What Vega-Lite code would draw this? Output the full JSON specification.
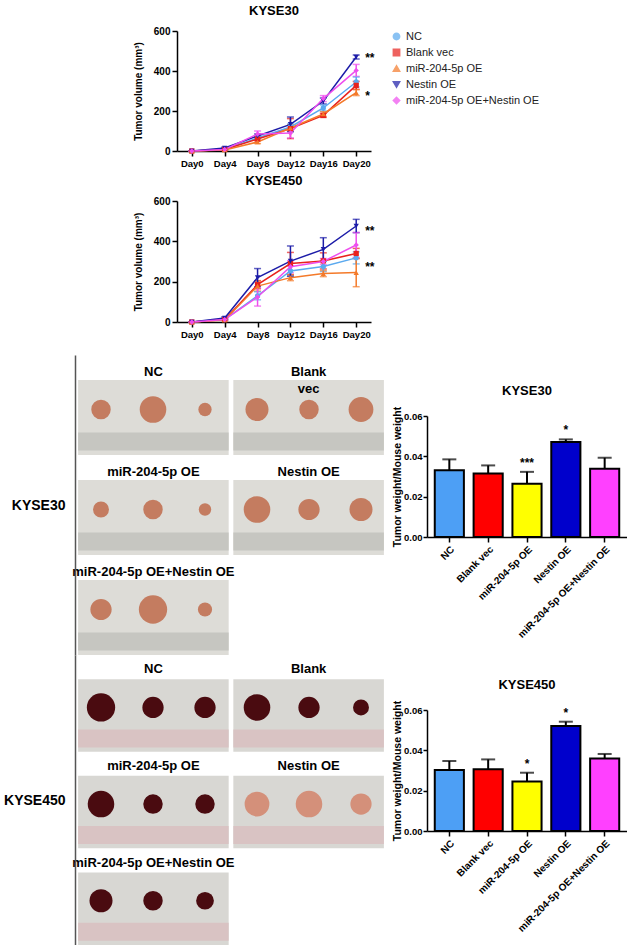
{
  "$schema": "https://vega.github.io/schema/vega-lite/v6.json",
  "background": "white",
  "padding": {"left": 3, "top": 5, "right": 0, "bottom": 0},
  "config": {
    "font": "Liberation Sans",
    "view": {"stroke": null},
    "axis": {"domainColor": "black", "domainWidth": 1.5, "tickColor": "black", "tickWidth": 1.5, "labelColor": "black", "labelFontWeight": "bold", "titleColor": "black", "titleFontWeight": "bold", "grid": false},
    "title": {"fontSize": 13, "fontWeight": "bold", "color": "black", "offset": 8},
    "legend": {"title": null, "labelFontSize": 11, "labelColor": "#222", "symbolSize": 40, "rowPadding": 3, "offset": 16}
  },
  "datasets": {
    "vol30": [
      {"group": "NC", "day": "Day0", "mean": 0, "err": 0},
      {"group": "NC", "day": "Day4", "mean": 8, "err": 3},
      {"group": "NC", "day": "Day8", "mean": 65, "err": 10},
      {"group": "NC", "day": "Day12", "mean": 120, "err": 15},
      {"group": "NC", "day": "Day16", "mean": 215, "err": 15},
      {"group": "NC", "day": "Day20", "mean": 345, "err": 25},
      {"group": "Blank vec", "day": "Day0", "mean": 0, "err": 0},
      {"group": "Blank vec", "day": "Day4", "mean": 8, "err": 3},
      {"group": "Blank vec", "day": "Day8", "mean": 60, "err": 8},
      {"group": "Blank vec", "day": "Day12", "mean": 112, "err": 50},
      {"group": "Blank vec", "day": "Day16", "mean": 178, "err": 10},
      {"group": "Blank vec", "day": "Day20", "mean": 328, "err": 20},
      {"group": "miR-204-5p OE", "day": "Day0", "mean": 0, "err": 0},
      {"group": "miR-204-5p OE", "day": "Day4", "mean": 5, "err": 2},
      {"group": "miR-204-5p OE", "day": "Day8", "mean": 45, "err": 8},
      {"group": "miR-204-5p OE", "day": "Day12", "mean": 115, "err": 15},
      {"group": "miR-204-5p OE", "day": "Day16", "mean": 185, "err": 12},
      {"group": "miR-204-5p OE", "day": "Day20", "mean": 292, "err": 15},
      {"group": "Nestin OE", "day": "Day0", "mean": 0, "err": 0},
      {"group": "Nestin OE", "day": "Day4", "mean": 15, "err": 4},
      {"group": "Nestin OE", "day": "Day8", "mean": 75, "err": 10},
      {"group": "Nestin OE", "day": "Day12", "mean": 133, "err": 37},
      {"group": "Nestin OE", "day": "Day16", "mean": 250, "err": 15},
      {"group": "Nestin OE", "day": "Day20", "mean": 470, "err": 10},
      {"group": "miR-204-5p OE+Nestin OE", "day": "Day0", "mean": 0, "err": 0},
      {"group": "miR-204-5p OE+Nestin OE", "day": "Day4", "mean": 8, "err": 3},
      {"group": "miR-204-5p OE+Nestin OE", "day": "Day8", "mean": 85, "err": 15},
      {"group": "miR-204-5p OE+Nestin OE", "day": "Day12", "mean": 90, "err": 25},
      {"group": "miR-204-5p OE+Nestin OE", "day": "Day16", "mean": 262, "err": 15},
      {"group": "miR-204-5p OE+Nestin OE", "day": "Day20", "mean": 403, "err": 30}
    ],
    "vol450": [
      {"group": "NC", "day": "Day0", "mean": 0, "err": 0},
      {"group": "NC", "day": "Day4", "mean": 12, "err": 3},
      {"group": "NC", "day": "Day8", "mean": 130, "err": 20},
      {"group": "NC", "day": "Day12", "mean": 253, "err": 25},
      {"group": "NC", "day": "Day16", "mean": 275, "err": 25},
      {"group": "NC", "day": "Day20", "mean": 318, "err": 30},
      {"group": "Blank vec", "day": "Day0", "mean": 0, "err": 0},
      {"group": "Blank vec", "day": "Day4", "mean": 12, "err": 3},
      {"group": "Blank vec", "day": "Day8", "mean": 185, "err": 20},
      {"group": "Blank vec", "day": "Day12", "mean": 290, "err": 55},
      {"group": "Blank vec", "day": "Day16", "mean": 303, "err": 40},
      {"group": "Blank vec", "day": "Day20", "mean": 340, "err": 25},
      {"group": "miR-204-5p OE", "day": "Day0", "mean": 0, "err": 0},
      {"group": "miR-204-5p OE", "day": "Day4", "mean": 10, "err": 3},
      {"group": "miR-204-5p OE", "day": "Day8", "mean": 178, "err": 25},
      {"group": "miR-204-5p OE", "day": "Day12", "mean": 220, "err": 15},
      {"group": "miR-204-5p OE", "day": "Day16", "mean": 240, "err": 15},
      {"group": "miR-204-5p OE", "day": "Day20", "mean": 245, "err": 70},
      {"group": "Nestin OE", "day": "Day0", "mean": 0, "err": 0},
      {"group": "Nestin OE", "day": "Day4", "mean": 20, "err": 5},
      {"group": "Nestin OE", "day": "Day8", "mean": 220, "err": 45},
      {"group": "Nestin OE", "day": "Day12", "mean": 302, "err": 75},
      {"group": "Nestin OE", "day": "Day16", "mean": 360, "err": 58},
      {"group": "Nestin OE", "day": "Day20", "mean": 476, "err": 33},
      {"group": "miR-204-5p OE+Nestin OE", "day": "Day0", "mean": 0, "err": 0},
      {"group": "miR-204-5p OE+Nestin OE", "day": "Day4", "mean": 12, "err": 3},
      {"group": "miR-204-5p OE+Nestin OE", "day": "Day8", "mean": 124, "err": 45},
      {"group": "miR-204-5p OE+Nestin OE", "day": "Day12", "mean": 274, "err": 30},
      {"group": "miR-204-5p OE+Nestin OE", "day": "Day16", "mean": 300, "err": 15},
      {"group": "miR-204-5p OE+Nestin OE", "day": "Day20", "mean": 382, "err": 62}
    ],
    "stars30": [
      {"day": "Day20", "mean": 478, "sig": "**"},
      {"day": "Day20", "mean": 292, "sig": "*"}
    ],
    "stars450": [
      {"day": "Day20", "mean": 468, "sig": "**"},
      {"day": "Day20", "mean": 286, "sig": "**"}
    ],
    "weight30": [
      {"group": "NC", "mean": 0.0331, "upper": 0.0385, "sig": ""},
      {"group": "Blank vec", "mean": 0.0315, "upper": 0.0355, "sig": ""},
      {"group": "miR-204-5p OE", "mean": 0.0264, "upper": 0.0323, "sig": "***"},
      {"group": "Nestin OE", "mean": 0.0471, "upper": 0.0484, "sig": "*"},
      {"group": "miR-204-5p OE+Nestin OE", "mean": 0.0338, "upper": 0.0393, "sig": ""}
    ],
    "weight450": [
      {"group": "NC", "mean": 0.0302, "upper": 0.0347, "sig": ""},
      {"group": "Blank vec", "mean": 0.0306, "upper": 0.0355, "sig": ""},
      {"group": "miR-204-5p OE", "mean": 0.0245, "upper": 0.0289, "sig": "*"},
      {"group": "Nestin OE", "mean": 0.0521, "upper": 0.0542, "sig": "*"},
      {"group": "miR-204-5p OE+Nestin OE", "mean": 0.036, "upper": 0.0382, "sig": ""}
    ],
    "photos30": [
      {"col": "L", "row": "1", "label": "NC"},
      {"col": "R", "row": "1", "label": ["Blank", "vec"]},
      {"col": "L", "row": "2", "label": "miR-204-5p OE"},
      {"col": "R", "row": "2", "label": "Nestin OE"},
      {"col": "L", "row": "3", "label": "miR-204-5p OE+Nestin OE"}
    ],
    "photos450": [
      {"col": "L", "row": "1", "label": "NC"},
      {"col": "R", "row": "1", "label": "Blank"},
      {"col": "L", "row": "2", "label": "miR-204-5p OE"},
      {"col": "R", "row": "2", "label": "Nestin OE"},
      {"col": "L", "row": "3", "label": "miR-204-5p OE+Nestin OE"}
    ],
    "tumors30": [
      {"slot": "L1", "row": "1", "d": 22, "tissue": "pale"},
      {"slot": "L2", "row": "1", "d": 30, "tissue": "pale"},
      {"slot": "L3", "row": "1", "d": 15, "tissue": "pale"},
      {"slot": "R1", "row": "1", "d": 26, "tissue": "pale"},
      {"slot": "R2", "row": "1", "d": 22, "tissue": "pale"},
      {"slot": "R3", "row": "1", "d": 28, "tissue": "pale"},
      {"slot": "L1", "row": "2", "d": 18, "tissue": "pale"},
      {"slot": "L2", "row": "2", "d": 22, "tissue": "pale"},
      {"slot": "L3", "row": "2", "d": 14, "tissue": "pale"},
      {"slot": "R1", "row": "2", "d": 30, "tissue": "pale"},
      {"slot": "R2", "row": "2", "d": 24, "tissue": "pale"},
      {"slot": "R3", "row": "2", "d": 26, "tissue": "pale"},
      {"slot": "L1", "row": "3", "d": 24, "tissue": "pale"},
      {"slot": "L2", "row": "3", "d": 32, "tissue": "pale"},
      {"slot": "L3", "row": "3", "d": 16, "tissue": "pale"}
    ],
    "tumors450": [
      {"slot": "L1", "row": "1", "d": 32, "tissue": "dark"},
      {"slot": "L2", "row": "1", "d": 24, "tissue": "dark"},
      {"slot": "L3", "row": "1", "d": 24, "tissue": "dark"},
      {"slot": "R1", "row": "1", "d": 30, "tissue": "dark"},
      {"slot": "R2", "row": "1", "d": 24, "tissue": "dark"},
      {"slot": "R3", "row": "1", "d": 18, "tissue": "dark"},
      {"slot": "L1", "row": "2", "d": 30, "tissue": "dark"},
      {"slot": "L2", "row": "2", "d": 22, "tissue": "dark"},
      {"slot": "L3", "row": "2", "d": 22, "tissue": "dark"},
      {"slot": "R1", "row": "2", "d": 28, "tissue": "pink"},
      {"slot": "R2", "row": "2", "d": 30, "tissue": "pink"},
      {"slot": "R3", "row": "2", "d": 24, "tissue": "pink"},
      {"slot": "L1", "row": "3", "d": 26, "tissue": "dark"},
      {"slot": "L2", "row": "3", "d": 22, "tissue": "dark"},
      {"slot": "L3", "row": "3", "d": 20, "tissue": "dark"}
    ]
  },
  "resolve": {"scale": {"color": "independent", "shape": "independent", "size": "independent"}, "legend": {"color": "independent", "shape": "independent"}},
  "spacing": 16,
  "vconcat": [
    {
      "spacing": 20,
      "resolve": {"scale": {"color": "independent", "shape": "independent"}},
      "hconcat": [
        {"width": 38, "height": 1, "data": {"values": []}, "mark": "text", "encoding": {}},
        {
          "spacing": 7,
          "vconcat": [
            {
              "title": "KYSE30",
              "width": 194,
              "height": 120,
              "data": {"name": "vol30"},
              "encoding": {
                "x": {"field": "day", "type": "ordinal", "scale": {"type": "point", "domain": ["Day0", "Day4", "Day8", "Day12", "Day16", "Day20"], "padding": 0.45}, "axis": {"title": null, "labelAngle": 0, "labelFontSize": 9.5}},
                "y": {"field": "mean", "type": "quantitative", "scale": {"domain": [0, 600], "nice": false}, "axis": {"values": [0, 200, 400, 600], "title": "Tumor volume (mm³)", "titleFontSize": 10, "titlePadding": 10, "labelFontSize": 10}}
              },
              "layer": [
                {"mark": {"type": "errorbar", "ticks": {"size": 7}, "thickness": 1.5}, "encoding": {"yError": {"field": "err"}, "color": {"field": "group", "type": "nominal", "scale": {"domain": ["NC", "Blank vec", "miR-204-5p OE", "Nestin OE", "miR-204-5p OE+Nestin OE"], "range": ["#5aa9ef", "#e8211c", "#f47a2a", "#1c1ca8", "#ee4eee"]}}}},
                {"mark": {"type": "line", "strokeWidth": 1.5}, "encoding": {"color": {"field": "group", "type": "nominal"}}},
                {"mark": {"type": "point", "filled": true, "size": 28, "opacity": 1}, "encoding": {"color": {"field": "group", "type": "nominal"}, "shape": {"field": "group", "type": "nominal", "scale": {"domain": ["NC", "Blank vec", "miR-204-5p OE", "Nestin OE", "miR-204-5p OE+Nestin OE"], "range": ["circle", "square", "triangle-up", "triangle-down", "diamond"]}}}},
                {"data": {"name": "stars30"}, "mark": {"type": "text", "dx": 9, "align": "left", "fontWeight": "bold", "fontSize": 12, "dy": 3}, "encoding": {"text": {"field": "sig"}}}
              ]
            },
            {
              "title": "KYSE450",
              "width": 194,
              "height": 121,
              "data": {"name": "vol450"},
              "encoding": {
                "x": {"field": "day", "type": "ordinal", "scale": {"type": "point", "domain": ["Day0", "Day4", "Day8", "Day12", "Day16", "Day20"], "padding": 0.45}, "axis": {"title": null, "labelAngle": 0, "labelFontSize": 9.5}},
                "y": {"field": "mean", "type": "quantitative", "scale": {"domain": [0, 600], "nice": false}, "axis": {"values": [0, 200, 400, 600], "title": "Tumor volume (mm³)", "titleFontSize": 10, "titlePadding": 10, "labelFontSize": 10}}
              },
              "layer": [
                {"mark": {"type": "errorbar", "ticks": {"size": 7}, "thickness": 1.5}, "encoding": {"yError": {"field": "err"}, "color": {"field": "group", "type": "nominal", "scale": {"domain": ["NC", "Blank vec", "miR-204-5p OE", "Nestin OE", "miR-204-5p OE+Nestin OE"], "range": ["#5aa9ef", "#e8211c", "#f47a2a", "#1c1ca8", "#ee4eee"]}}}},
                {"mark": {"type": "line", "strokeWidth": 1.5}, "encoding": {"color": {"field": "group", "type": "nominal"}}},
                {"mark": {"type": "point", "filled": true, "size": 28, "opacity": 1}, "encoding": {"color": {"field": "group", "type": "nominal"}, "shape": {"field": "group", "type": "nominal", "scale": {"domain": ["NC", "Blank vec", "miR-204-5p OE", "Nestin OE", "miR-204-5p OE+Nestin OE"], "range": ["circle", "square", "triangle-up", "triangle-down", "diamond"]}}}},
                {"data": {"name": "stars450"}, "mark": {"type": "text", "dx": 9, "align": "left", "fontWeight": "bold", "fontSize": 12, "dy": 3}, "encoding": {"text": {"field": "sig"}}}
              ]
            }
          ]
        }
      ]
    },
    {
      "spacing": 0,
      "resolve": {"scale": {"color": "independent", "size": "independent"}},
      "vconcat": [
        {
          "spacing": 5,
          "resolve": {"scale": {"color": "independent", "size": "independent"}},
          "hconcat": [
            {
              "width": 312,
              "height": 300,
              "resolve": {"scale": {"x": "independent"}},
              "encoding": {
                "y": {"field": "row", "type": "nominal", "scale": {"type": "band", "paddingInner": 0.25, "paddingOuter": 0.125, "align": 1}, "axis": {"title": "KYSE30", "titleAngle": 0, "titleAlign": "right", "titleBaseline": "middle", "titleFontSize": 14, "titlePadding": 10, "labels": false, "ticks": false, "domainColor": "#555"}}
              },
              "layer": [
                {"data": {"name": "photos30"}, "mark": {"type": "rect", "fill": "#dddcd7"}, "encoding": {"x": {"field": "col", "type": "nominal", "scale": {"type": "band", "paddingInner": 0.03, "paddingOuter": 0.02}, "axis": null}}},
                {"data": {"name": "photos30"}, "mark": {"type": "rect", "fill": "#c6c6c1", "height": 18, "yOffset": 24}, "encoding": {"x": {"field": "col", "type": "nominal", "scale": {"type": "band", "paddingInner": 0.03, "paddingOuter": 0.02}, "axis": null}}},
                {"data": {"name": "tumors30"}, "mark": {"type": "point", "filled": true, "opacity": 1, "yOffset": -8}, "encoding": {"x": {"field": "slot", "type": "nominal", "scale": {"type": "band", "paddingInner": 0, "paddingOuter": 0}, "axis": null}, "size": {"field": "d", "type": "quantitative", "scale": {"type": "pow", "exponent": 2, "domain": [0, 35], "range": [0, 960]}, "legend": null}, "color": {"field": "tissue", "type": "nominal", "scale": {"domain": ["pale", "dark", "pink"], "range": ["#c47c60", "#4a0b10", "#d4907a"]}, "legend": null}}},
                {"data": {"name": "photos30"}, "mark": {"type": "text", "baseline": "top", "dy": -52, "fontWeight": "bold", "fontSize": 13, "lineHeight": 17}, "encoding": {"x": {"field": "col", "type": "nominal", "scale": {"type": "band", "paddingInner": 0.03, "paddingOuter": 0.02}, "axis": null}, "text": {"field": "label"}}}
              ]
            },
            {
              "spacing": 29,
              "vconcat": [
                {"width": 200, "height": 1, "data": {"values": []}, "mark": "text", "encoding": {}},
                {
                  "title": "KYSE30",
                  "width": 200,
                  "height": 121,
                  "data": {"name": "weight30"},
                  "encoding": {
                    "x": {"field": "group", "type": "nominal", "sort": null, "scale": {"paddingInner": 0.25, "paddingOuter": 0.2}, "axis": {"title": null, "labelAngle": -45, "labelAlign": "right", "labelFontSize": 10, "ticks": true}}
                  },
                  "layer": [
                    {"mark": {"type": "rule", "strokeWidth": 2, "color": "black"}, "encoding": {"y": {"field": "mean", "type": "quantitative"}, "y2": {"field": "upper"}}},
                    {"mark": {"type": "bar", "stroke": "black", "strokeWidth": 2}, "encoding": {"y": {"field": "mean", "type": "quantitative", "scale": {"domain": [0, 0.06], "nice": false}, "axis": {"values": [0, 0.02, 0.04, 0.06], "format": ".2f", "title": "Tumor weight/Mouse weight", "titleFontSize": 10.5, "titlePadding": 1, "labelFontSize": 9.5, "tickSize": 4, "labelPadding": 1}}, "color": {"field": "group", "type": "nominal", "scale": {"domain": ["NC", "Blank vec", "miR-204-5p OE", "Nestin OE", "miR-204-5p OE+Nestin OE"], "range": ["#4d9ff5", "#ff0000", "#ffff00", "#0000cc", "#ff40ff"]}, "legend": null}}},
                    {"mark": {"type": "tick", "thickness": 2, "size": 14, "color": "black"}, "encoding": {"y": {"field": "upper", "type": "quantitative"}}},
                    {"mark": {"type": "text", "baseline": "bottom", "dy": -2, "fontWeight": "bold", "fontSize": 12}, "encoding": {"y": {"field": "upper", "type": "quantitative"}, "text": {"field": "sig"}}}
                  ]
                }
              ]
            }
          ]
        },
        {
          "spacing": 5,
          "resolve": {"scale": {"color": "independent", "size": "independent"}},
          "hconcat": [
            {
              "width": 312,
              "height": 290,
              "resolve": {"scale": {"x": "independent"}},
              "encoding": {
                "y": {"field": "row", "type": "nominal", "scale": {"type": "band", "paddingInner": 0.25, "paddingOuter": 0.125, "align": 1}, "axis": {"title": "KYSE450", "titleAngle": 0, "titleAlign": "right", "titleBaseline": "middle", "titleFontSize": 14, "titlePadding": 10, "labels": false, "ticks": false, "domainColor": "#555"}}
              },
              "layer": [
                {"data": {"name": "photos450"}, "mark": {"type": "rect", "fill": "#d8d7d3"}, "encoding": {"x": {"field": "col", "type": "nominal", "scale": {"type": "band", "paddingInner": 0.03, "paddingOuter": 0.02}, "axis": null}}},
                {"data": {"name": "photos450"}, "mark": {"type": "rect", "fill": "#d9c3c3", "height": 18, "yOffset": 23}, "encoding": {"x": {"field": "col", "type": "nominal", "scale": {"type": "band", "paddingInner": 0.03, "paddingOuter": 0.02}, "axis": null}}},
                {"data": {"name": "tumors450"}, "mark": {"type": "point", "filled": true, "opacity": 1, "yOffset": -8}, "encoding": {"x": {"field": "slot", "type": "nominal", "scale": {"type": "band", "paddingInner": 0, "paddingOuter": 0}, "axis": null}, "size": {"field": "d", "type": "quantitative", "scale": {"type": "pow", "exponent": 2, "domain": [0, 35], "range": [0, 960]}, "legend": null}, "color": {"field": "tissue", "type": "nominal", "scale": {"domain": ["pale", "dark", "pink"], "range": ["#c47c60", "#4a0b10", "#d4907a"]}, "legend": null}}},
                {"data": {"name": "photos450"}, "mark": {"type": "text", "baseline": "top", "dy": -52, "fontWeight": "bold", "fontSize": 13}, "encoding": {"x": {"field": "col", "type": "nominal", "scale": {"type": "band", "paddingInner": 0.03, "paddingOuter": 0.02}, "axis": null}, "text": {"field": "label"}}}
              ]
            },
            {
              "spacing": 23,
              "vconcat": [
                {"width": 200, "height": 1, "data": {"values": []}, "mark": "text", "encoding": {}},
                {
                  "title": "KYSE450",
                  "width": 200,
                  "height": 121,
                  "data": {"name": "weight450"},
                  "encoding": {
                    "x": {"field": "group", "type": "nominal", "sort": null, "scale": {"paddingInner": 0.25, "paddingOuter": 0.2}, "axis": {"title": null, "labelAngle": -45, "labelAlign": "right", "labelFontSize": 10, "ticks": true}}
                  },
                  "layer": [
                    {"mark": {"type": "rule", "strokeWidth": 2, "color": "black"}, "encoding": {"y": {"field": "mean", "type": "quantitative"}, "y2": {"field": "upper"}}},
                    {"mark": {"type": "bar", "stroke": "black", "strokeWidth": 2}, "encoding": {"y": {"field": "mean", "type": "quantitative", "scale": {"domain": [0, 0.06], "nice": false}, "axis": {"values": [0, 0.02, 0.04, 0.06], "format": ".2f", "title": "Tumor weight/Mouse weight", "titleFontSize": 10.5, "titlePadding": 1, "labelFontSize": 9.5, "tickSize": 4, "labelPadding": 1}}, "color": {"field": "group", "type": "nominal", "scale": {"domain": ["NC", "Blank vec", "miR-204-5p OE", "Nestin OE", "miR-204-5p OE+Nestin OE"], "range": ["#4d9ff5", "#ff0000", "#ffff00", "#0000cc", "#ff40ff"]}, "legend": null}}},
                    {"mark": {"type": "tick", "thickness": 2, "size": 14, "color": "black"}, "encoding": {"y": {"field": "upper", "type": "quantitative"}}},
                    {"mark": {"type": "text", "baseline": "bottom", "dy": -2, "fontWeight": "bold", "fontSize": 12}, "encoding": {"y": {"field": "upper", "type": "quantitative"}, "text": {"field": "sig"}}}
                  ]
                }
              ]
            }
          ]
        }
      ]
    }
  ]
}
